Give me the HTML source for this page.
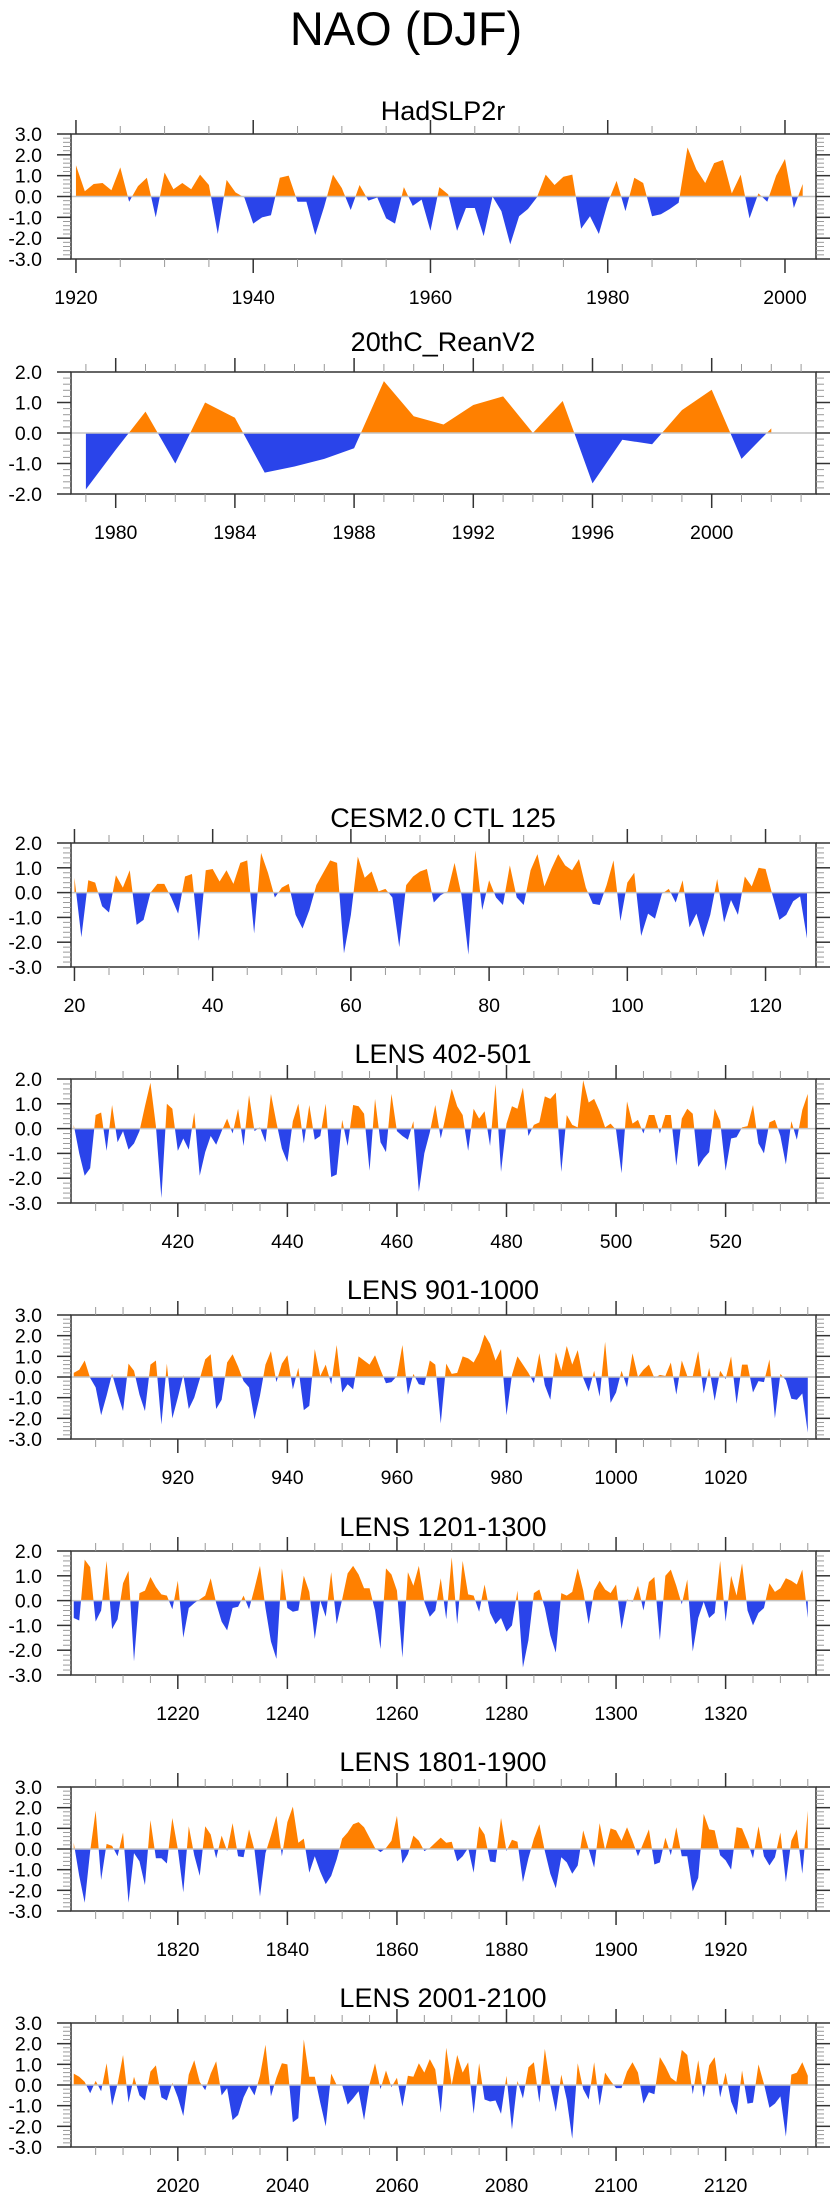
<!DOCTYPE html>
<html><head><meta charset="utf-8"><style>
html,body{margin:0;padding:0;background:#fff;}
svg{display:block;font-family:"Liberation Sans",Arial,sans-serif;}
</style></head><body>
<svg id="chart" width="840" height="2200" viewBox="0 0 840 2200" xmlns="http://www.w3.org/2000/svg">
<text x="406" y="45" font-size="47" text-anchor="middle" fill="#000">NAO (DJF)</text>
</svg>
<script>
// ---- data (top level) ----
const hadStart = 1920;
const hadValues = [1.5,0.25,0.6,0.65,0.3,1.4,-0.25,0.5,0.9,-1.0,1.15,0.35,0.65,0.35,1.05,0.55,-1.8,0.8,0.2,-0.05,-1.3,-1.0,-0.9,0.9,1.0,-0.25,-0.25,-1.85,-0.5,1.05,0.4,-0.65,0.55,-0.2,-0.05,-1.05,-1.3,0.45,-0.45,-0.15,-1.65,0.45,0.1,-1.65,-0.55,-0.55,-1.9,0.0,-0.7,-2.3,-0.95,-0.6,-0.05,1.05,0.55,0.95,1.05,-1.55,-0.95,-1.8,-0.3,0.75,-0.7,0.9,0.65,-0.95,-0.85,-0.6,-0.3,2.35,1.3,0.65,1.6,1.75,0.15,1.05,-1.05,0.15,-0.25,1.0,1.8,-0.55,0.6];
const reanStart = 1979;
const reanValues = [-1.85,-0.55,0.7,-1.0,1.0,0.5,-1.3,-1.1,-0.85,-0.5,1.7,0.55,0.28,0.92,1.2,0.0,1.05,-1.65,-0.22,-0.37,0.75,1.42,-0.85,0.15];
const cesmStart = 20;
const cesmValues = [0.6,-1.8,0.5,0.4,-0.55,-0.8,0.7,0.2,0.9,-1.3,-1.1,0.0,0.35,0.35,-0.2,-0.85,0.65,0.75,-1.95,0.9,0.95,0.45,0.9,0.35,1.2,1.3,-1.65,1.6,0.8,-0.2,0.2,0.35,-0.9,-1.45,-0.7,0.3,0.8,1.3,1.2,-2.45,-0.9,1.45,0.6,0.85,0.05,0.15,-0.2,-2.2,0.3,0.65,0.85,0.95,-0.4,-0.1,0.05,1.2,-0.1,-2.5,1.7,-0.7,0.5,-0.2,-0.5,1.1,-0.2,-0.5,0.9,1.55,0.25,0.95,1.55,1.1,0.9,1.35,0.2,-0.45,-0.5,0.3,1.3,-1.15,0.4,0.8,-1.75,-0.85,-1.05,-0.05,0.15,-0.4,0.5,-1.4,-0.85,-1.8,-0.9,0.55,-1.2,-0.3,-0.9,0.65,0.25,1.0,0.95,-0.1,-1.1,-0.9,-0.35,-0.15,-1.85];
const lens402Start = 401;
const lens402Values = [0.15,-1.0,-1.9,-1.6,0.55,0.65,-0.9,0.95,-0.55,-0.1,-0.85,-0.6,-0.1,0.9,1.85,0.1,-2.8,1.0,0.8,-0.9,-0.4,-0.85,0.65,-1.9,-0.95,-0.3,-0.65,-0.1,0.4,-0.2,0.8,-0.7,1.35,-0.1,0.05,-0.55,1.4,0.25,-0.8,-1.35,0.3,1.0,-0.6,0.95,-0.45,-0.3,1.0,-1.95,-1.85,0.35,-0.7,0.95,0.9,0.6,-1.7,1.2,-0.55,-0.95,1.4,-0.1,-0.3,-0.45,0.3,-2.55,-1.0,-0.15,0.95,-0.4,0.6,1.6,0.9,0.55,-0.9,0.8,0.4,0.7,-0.7,1.8,-1.75,0.2,0.9,0.8,1.65,-0.3,0.15,0.25,1.3,1.2,1.45,-1.75,0.55,0.15,0.05,1.95,1.05,1.2,0.7,0.05,0.2,-0.05,-1.8,1.1,0.2,0.35,-0.2,0.55,0.55,-0.2,0.55,0.55,-1.5,0.4,0.8,0.6,-1.55,-1.2,-0.95,0.8,0.3,-1.7,-0.4,-0.35,0.05,0.1,0.95,-0.6,-1.0,0.25,0.35,-0.3,-1.45,0.3,-0.45,0.75,1.4];
const lens901Start = 901;
const lens901Values = [0.2,0.35,0.8,-0.05,-0.5,-1.85,-0.9,0.15,-0.8,-1.65,0.65,0.3,-0.85,-1.65,0.6,0.8,-2.3,0.65,-2.0,-1.0,0.1,-1.55,-1.0,-0.1,0.85,1.1,-1.55,-1.1,0.7,1.1,0.5,-0.2,-0.5,-2.05,-0.9,0.6,1.25,-0.25,0.65,1.05,-0.6,0.45,-1.6,-1.4,1.35,0.05,0.6,-0.35,1.55,-0.75,-0.35,-0.6,1.0,0.8,0.6,1.05,0.35,-0.3,-0.25,0.05,1.55,-0.85,0.15,-0.35,-0.4,0.8,0.6,-2.25,0.65,0.15,0.2,1.0,0.9,0.7,1.2,2.05,1.6,0.8,1.35,-1.85,0.1,1.0,0.6,0.2,-0.3,1.15,-0.4,-1.1,1.2,0.3,1.5,0.6,1.3,-0.05,-0.7,0.3,-0.95,1.7,-1.25,-0.75,0.3,-0.5,1.15,0.0,0.35,0.6,-0.05,0.1,0.05,0.7,-0.85,0.8,0.05,0.05,1.25,-0.8,0.45,-1.15,0.3,-0.1,1.0,-1.3,0.6,0.6,-0.75,-0.2,-0.25,0.85,-2.0,0.15,-0.15,-1.05,-1.1,-0.8,-2.7];
const lens1201Start = 1201;
const lens1201Values = [-0.7,-0.8,1.65,1.35,-0.85,-0.4,1.6,-1.15,-0.75,0.7,1.2,-2.45,0.3,0.4,0.95,0.55,0.25,0.2,-0.35,0.8,-1.5,-0.3,-0.1,0.05,0.2,0.9,-0.1,-0.85,-1.2,-0.3,-0.25,0.2,-0.35,0.5,1.4,-0.3,-1.65,-2.35,1.3,-0.3,-0.45,-0.4,1.0,0.35,-1.55,0.0,-0.65,1.15,-0.95,0.05,1.1,1.4,1.05,0.5,0.5,-0.4,-1.95,1.3,1.05,0.4,-2.3,1.15,0.6,1.4,-0.05,-0.65,-0.4,0.9,-0.75,1.75,-0.95,1.6,0.25,0.2,-0.45,0.65,-0.5,-0.95,-0.7,-1.25,-1.0,0.4,-2.7,-1.6,0.3,0.45,-0.3,-1.4,-2.1,0.3,0.2,0.35,1.3,0.4,-0.95,0.4,0.8,0.45,0.3,0.65,-1.15,0.05,-0.05,0.6,-0.4,0.75,0.95,-1.6,1.0,1.25,0.6,-0.15,0.85,-2.05,-0.7,-0.05,-0.7,-0.5,1.6,-0.85,1.0,0.2,1.5,-0.4,-1.0,-0.5,-0.3,0.7,0.35,0.5,0.9,0.8,0.65,1.25,-0.7];
const lens1801Start = 1801;
const lens1801Values = [0.3,-1.3,-2.6,-0.1,1.85,-1.5,0.25,0.15,-0.35,0.8,-2.6,-0.2,-0.6,-1.75,1.4,-0.45,-0.45,-0.7,1.5,0.0,-2.1,1.1,-0.3,-1.3,1.1,0.7,-0.45,0.65,-0.1,1.25,-0.35,-0.4,0.95,-0.05,-2.3,-0.2,0.65,1.6,-0.35,1.3,2.05,0.3,0.5,-1.15,-0.35,-1.1,-1.7,-1.3,-0.5,0.5,0.8,1.2,1.3,1.05,0.55,0.05,-0.15,0.05,0.4,1.6,-0.7,-0.25,0.65,0.4,-0.1,0.05,0.3,0.55,0.3,0.35,-0.6,-0.35,0.05,-1.15,1.1,0.7,-0.6,-0.65,1.5,-0.1,0.45,0.35,-1.6,-0.45,0.5,1.2,-0.1,-1.2,-1.9,-0.4,-0.65,-1.2,-0.8,0.9,0.0,-0.9,1.25,-0.05,1.0,0.9,0.4,1.05,0.4,-0.35,0.3,0.95,-0.75,-0.65,0.55,-0.3,1.05,-0.35,-0.35,-2.05,-1.4,1.7,0.95,0.9,-0.3,-0.55,-1.0,1.05,1.0,0.35,-0.45,1.1,-0.35,-0.8,-0.4,0.8,-1.6,0.4,0.95,-1.2,1.85];
const lens2001Start = 2001;
const lens2001Values = [0.55,0.4,0.15,-0.4,0.2,-0.3,1.05,-1.0,0.05,1.45,-0.85,0.4,-0.5,-0.75,0.65,0.95,-0.6,-0.75,0.1,-0.6,-1.5,0.5,1.2,0.15,-0.25,0.55,1.15,-0.5,-0.15,-1.7,-1.45,-0.6,-0.05,-0.5,0.45,1.95,-0.55,0.35,1.05,1.0,-1.8,-1.6,2.2,0.4,0.4,-0.85,-2.0,0.55,0.0,0.0,-0.95,-0.65,-0.3,-1.7,0.05,1.05,-0.2,0.7,-0.1,0.35,-1.05,0.45,0.4,1.05,0.6,1.25,0.75,-1.35,1.8,0.0,1.45,0.6,1.1,-1.4,1.05,-0.7,-0.8,-0.75,-1.4,0.45,-2.15,0.2,-0.65,0.85,1.1,-0.85,1.75,0.0,-1.3,0.5,-0.7,-2.6,1.05,-0.2,-0.7,1.1,-1.0,0.6,0.2,-0.15,-0.15,0.65,1.1,0.6,-0.9,-0.35,-0.45,1.35,0.9,0.35,0.15,1.7,1.45,-0.45,1.2,-0.6,0.95,1.35,-0.6,0.6,-0.8,-1.45,0.7,-0.9,-0.85,1.0,0.05,-1.1,-0.9,-0.55,-2.5,0.5,0.6,1.1,0.45];

const panels = [
 {name:"hadslp2r",title:"HadSLP2r",tb:120,top:134,bot:259,ymin:-3,ymax:3,xmin:1919.44,xmax:2003.5,maj:20,majStart:1920,majEnd:2000,min:5,minStart:1920,start:hadStart,vals:hadValues},
 {name:"20thc-reanv2",title:"20thC_ReanV2",tb:351,top:372,bot:494,ymin:-2,ymax:2,xmin:1978.5,xmax:2003.5,maj:4,majStart:1980,majEnd:2000,min:1,minStart:1979,start:reanStart,vals:reanValues},
 {name:"cesm2-ctl-125",title:"CESM2.0 CTL 125",tb:827,top:843,bot:967,ymin:-3,ymax:2,xmin:19.5,xmax:127.3,maj:20,majStart:20,majEnd:120,min:5,minStart:20,start:cesmStart,vals:cesmValues},
 {name:"lens-402-501",title:"LENS 402-501",tb:1063,top:1079,bot:1203,ymin:-3,ymax:2,xmin:400.5,xmax:536.5,maj:20,majStart:420,majEnd:520,min:5,minStart:405,start:lens402Start,vals:lens402Values},
 {name:"lens-901-1000",title:"LENS 901-1000",tb:1299,top:1315,bot:1439,ymin:-3,ymax:3,xmin:900.5,xmax:1036.5,maj:20,majStart:920,majEnd:1020,min:5,minStart:905,start:lens901Start,vals:lens901Values},
 {name:"lens-1201-1300",title:"LENS 1201-1300",tb:1536,top:1551,bot:1675,ymin:-3,ymax:2,xmin:1200.5,xmax:1336.5,maj:20,majStart:1220,majEnd:1320,min:5,minStart:1205,start:lens1201Start,vals:lens1201Values},
 {name:"lens-1801-1900",title:"LENS 1801-1900",tb:1771,top:1787,bot:1911,ymin:-3,ymax:3,xmin:1800.5,xmax:1936.5,maj:20,majStart:1820,majEnd:1920,min:5,minStart:1805,start:lens1801Start,vals:lens1801Values},
 {name:"lens-2001-2100",title:"LENS 2001-2100",tb:2007,top:2023,bot:2147,ymin:-3,ymax:3,xmin:2000.5,xmax:2136.5,maj:20,majStart:2020,majEnd:2120,min:5,minStart:2005,start:lens2001Start,vals:lens2001Values}
];

const NS="http://www.w3.org/2000/svg";
const svg=document.getElementById('chart');
const L=71,R=816;
function mk(tag,attrs,parent){const e=document.createElementNS(NS,tag);for(const k in attrs)e.setAttribute(k,attrs[k]);(parent||svg).appendChild(e);return e;}

panels.forEach(p=>{
  const g=mk('g',{});
  
  
  const xs=v=>L+(v-p.xmin)/(p.xmax-p.xmin)*(R-L);
  const ys=v=>p.bot-(v-p.ymin)/(p.ymax-p.ymin)*(p.bot-p.top);
  const t=mk('text',{x:443,y:p.tb,'font-size':27,'text-anchor':'middle',fill:'#000'},g);
  t.textContent=p.title;
  
  
  const pts=[];
  for(let i=0;i<p.vals.length;i++){
    const x=p.start+i,v=p.vals[i];
    if(i>0){const pv=p.vals[i-1];if((pv>0&&v<0)||(pv<0&&v>0)){const f=pv/(pv-v);pts.push([x-1+f,0]);}}
    pts.push([x,v]);
  }
  const first=pts[0][0],last=pts[pts.length-1][0];
  function poly(clamp,color,nm){
    let d='M'+xs(first)+','+ys(0);
    pts.forEach(q=>{d+=' L'+xs(q[0]).toFixed(2)+','+ys(clamp(q[1])).toFixed(2);});
    d+=' L'+xs(last)+','+ys(0)+' Z';
    const e=mk('path',{d:d,fill:color,stroke:'none'},g);
    
    
  }
  poly(v=>Math.max(v,0),'#ff8000',p.name+'-positive-fill');
  poly(v=>Math.min(v,0),'#2a44ea',p.name+'-negative-fill');
  const z=mk('line',{x1:L,x2:R,y1:ys(0),y2:ys(0),stroke:'#c4c4c4','stroke-width':1.5},g);
  
  
  const box=mk('rect',{x:L,y:p.top,width:R-L,height:p.bot-p.top,fill:'none',stroke:'#333','stroke-width':1.5},g);
  
  
  for(let k=Math.round(p.ymin*5);k<=Math.round(p.ymax*5);k++){
    const v=k/5,y=ys(v),major=(k%5===0);
    const len=major?14:8,col=major?'#333':'#999';
    mk('line',{x1:L-len,x2:L,y1:y,y2:y,stroke:col,'stroke-width':major?1.5:1},g);
    mk('line',{x1:R,x2:R+len,y1:y,y2:y,stroke:col,'stroke-width':major?1.5:1},g);
    if(major){
      const lb=mk('text',{x:42,y:y+7,'font-size':19.5,'text-anchor':'end',fill:'#000'},g);
      lb.textContent=v.toFixed(1);
      
      
    }
  }
  for(let v=p.minStart;v<=p.xmax;v+=p.min){
    if(v<p.xmin)continue;
    const x=xs(v);
    const major=((v-p.majStart)%p.maj===0)&&v>=p.majStart;
    const len=major?14:8,col=major?'#333':'#999';
    mk('line',{x1:x,x2:x,y1:p.top-len,y2:p.top,stroke:col,'stroke-width':major?1.5:1},g);
    mk('line',{x1:x,x2:x,y1:p.bot,y2:p.bot+len,stroke:col,'stroke-width':major?1.5:1},g);
    if(major&&v<=p.majEnd){
      const lb=mk('text',{x:x,y:p.bot+45,'font-size':19.5,'text-anchor':'middle',fill:'#000'},g);
      lb.textContent=String(v);
      
      
    }
  }
});
</script>
</body></html>
